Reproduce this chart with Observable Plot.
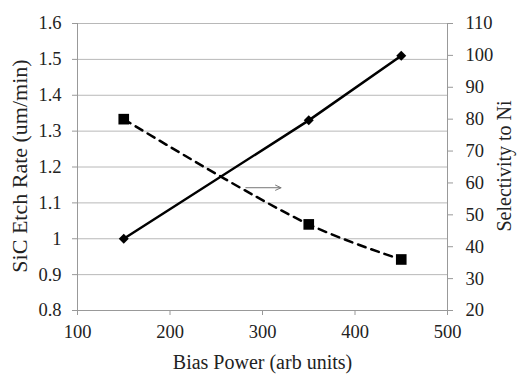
<!DOCTYPE html>
<html>
<head>
<meta charset="utf-8">
<script src="https://cdn.jsdelivr.net/npm/d3@7"></script>
<script src="https://cdn.jsdelivr.net/npm/@observablehq/plot@0.6"></script>
<style>
  html, body { margin: 0; padding: 0; background: #fff; }
  #chart { position: relative; width: 522px; height: 383px; }
  #chart > svg { position: absolute; left: 0; top: 0; }
  #chart svg, #chart svg text { font-family: "Liberation Serif", "Times New Roman", "DejaVu Serif", serif !important; }
</style>
</head>
<body>
<div id="chart"></div>
<script>
const power = [150, 350, 450];
const etchRate = [1.0, 1.33, 1.51];
const selectivity = [80, 47, 36];
const xTicks = [100, 200, 300, 400, 500];
const leftTicks = [0.8, 0.9, 1.0, 1.1, 1.2, 1.3, 1.4, 1.5, 1.6];
const rightTicks = [20, 30, 40, 50, 60, 70, 80, 90, 100, 110];
const arrowPower = [282, 320];
const arrowSelectivity = [58.5, 58.5];

const etchData = power.map((p, i) => ({power: p, value: etchRate[i]}));
const selData = power.map((p, i) => ({power: p, value: selectivity[i]}));
const arrowData = [{x1: arrowPower[0], y1: arrowSelectivity[0], x2: arrowPower[1], y2: arrowSelectivity[1]}];

const common = {
  width: 522, height: 383,
  marginLeft: 77, marginRight: 75, marginTop: 23, marginBottom: 73,
  style: {fontFamily: "'Liberation Serif', serif", fontSize: "18.5px", color: "#222", background: "transparent"}
};

const p1 = Plot.plot({
  ...common,
  x: {domain: [100, 500]},
  y: {domain: [0.8, 1.6]},
  marks: [
    Plot.gridY(leftTicks, {stroke: "#b8b8b8", strokeOpacity: 1}),
    Plot.ruleX([100], {stroke: "#999"}),
    Plot.ruleX([500], {stroke: "#999"}),
    Plot.ruleY([0.8], {stroke: "#999"}),
    Plot.axisY(leftTicks, {anchor: "left", tickSize: 5, tickPadding: 11, stroke: "#999", fill: "#222", tickFormat: d => String(d), label: null}),
    Plot.axisX(xTicks, {anchor: "bottom", tickSize: 5, tickPadding: 9, stroke: "#999", fill: "#222", tickFormat: d => String(d), label: null}),
    Plot.line(etchData, {x: "power", y: "value", stroke: "#000", strokeWidth: 2.5}),
    Plot.dot(etchData, {x: "power", y: "value", symbol: "diamond2", r: 4.5, fill: "#000", stroke: "none"}),
    Plot.text(["SiC Etch Rate (um/min)"], {frameAnchor: "left", dx: -58, dy: -1, rotate: -90, fill: "#222", textAnchor: "middle", lineAnchor: "middle", fontSize: 22}),
    Plot.text(["Bias Power (arb units)"], {frameAnchor: "bottom", dy: 52, fill: "#222", textAnchor: "middle", lineAnchor: "middle", fontSize: 20})
  ]
});

const p2 = Plot.plot({
  ...common,
  x: {domain: [100, 500], axis: null},
  y: {domain: [20, 110]},
  marks: [
    Plot.axisY(rightTicks, {anchor: "right", tickSize: 5, tickPadding: 13, stroke: "#999", fill: "#222", tickFormat: d => String(d), label: null}),
    Plot.line(selData, {x: "power", y: "value", stroke: "#000", strokeWidth: 2.5, strokeDasharray: "8,6", curve: "catmull-rom"}),
    Plot.dot(selData, {x: "power", y: "value", symbol: "square", r: 6, fill: "#000", stroke: "none"}),
    Plot.arrow(arrowData, {x1: "x1", y1: "y1", x2: "x2", y2: "y2", stroke: "#777", strokeWidth: 1, headLength: 9, headAngle: 50}),
    Plot.text(["Selectivity to Ni"], {frameAnchor: "right", dx: 57, dy: -1, rotate: -90, fill: "#222", textAnchor: "middle", lineAnchor: "middle", fontSize: 20})
  ]
});

const chart = document.getElementById("chart");
chart.appendChild(p1);
chart.appendChild(p2);
</script>
</body>
</html>
